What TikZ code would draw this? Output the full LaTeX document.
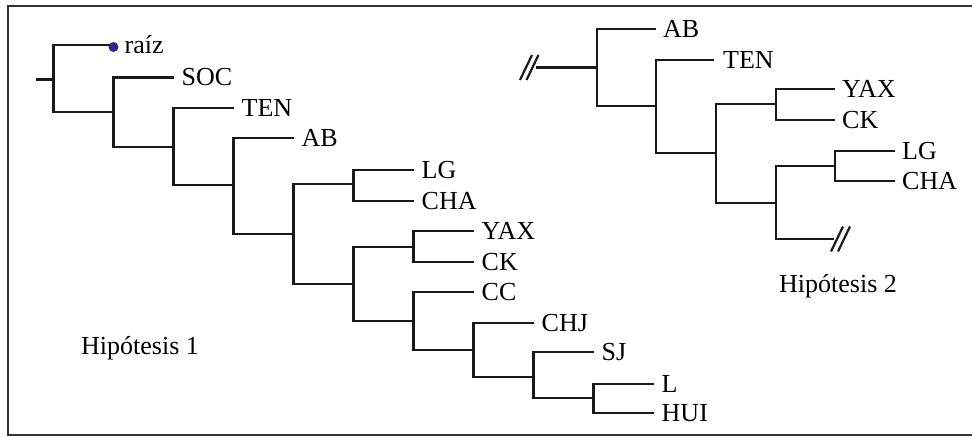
\documentclass[tikz,border=0pt]{standalone}
\usepackage{fontspec}
\setmainfont{Liberation Serif}
\definecolor{rootblue}{RGB}{46,40,140}

\begin{document}
\begin{tikzpicture}[x=1pt, y=-1pt,
  branch/.style={line width=2.2pt, black!90},
  taxon/.style={anchor=west, inner xsep=#1, inner ysep=0pt, font=\fontsize{26}{30}\selectfont},
  taxon/.default=8pt,
  caption/.style={anchor=base west, inner sep=0pt, font=\fontsize{26}{30}\selectfont}]

  \useasboundingbox (0,0) rectangle (972,438);
  \draw[line width=2.8pt, black!80] (8,6) rectangle (990,435);

  % Hipotesis 1
  \coordinate (stem) at (36,79.5);
  \coordinate (r0) at (53.5,79.5);
  \coordinate (r1) at (113.5,112);
  \coordinate (r2) at (173.5,147);
  \coordinate (r3) at (233.5,185);
  \coordinate (r4) at (293.5,234);
  \coordinate (r5) at (353.5,184);
  \coordinate (r6) at (353.5,284);
  \coordinate (r7) at (413.5,247);
  \coordinate (r8) at (413.5,321);
  \coordinate (r9) at (473.5,350);
  \coordinate (r10) at (533.5,377);
  \coordinate (r11) at (593.5,398);

  \node[taxon=11pt, yshift=2pt] (raiz) at (113.5,47) {raíz};
  \node[taxon] (soc) at (173.5,77.5) {SOC};
  \node[taxon] (ten) at (233.5,108) {TEN};
  \node[taxon] (ab) at (293.5,138) {AB};
  \node[taxon] (lg) at (413.5,170) {LG};
  \node[taxon] (cha) at (413.5,201) {CHA};
  \node[taxon] (yax) at (473.5,231) {YAX};
  \node[taxon] (ck) at (473.5,262) {CK};
  \node[taxon] (cc) at (473.5,292) {CC};
  \node[taxon] (chj) at (533.5,323) {CHJ};
  \node[taxon] (sj) at (593.5,352) {SJ};
  \node[taxon] (l) at (653.5,384) {L};
  \node[taxon] (hui) at (653.5,413) {HUI};

  \draw[branch] (stem) -- (r0);
  \draw[branch] (r0) |- (raiz.west);
  \draw[branch] (r0) |- (r1);
  \draw[branch] (r1) |- (soc.west);
  \draw[branch] (r1) |- (r2);
  \draw[branch] (r2) |- (ten.west);
  \draw[branch] (r2) |- (r3);
  \draw[branch] (r3) |- (ab.west);
  \draw[branch] (r3) |- (r4);
  \draw[branch] (r4) |- (r5);
  \draw[branch] (r4) |- (r6);
  \draw[branch] (r5) |- (lg.west);
  \draw[branch] (r5) |- (cha.west);
  \draw[branch] (r6) |- (r7);
  \draw[branch] (r6) |- (r8);
  \draw[branch] (r7) |- (yax.west);
  \draw[branch] (r7) |- (ck.west);
  \draw[branch] (r8) |- (cc.west);
  \draw[branch] (r8) |- (r9);
  \draw[branch] (r9) |- (chj.west);
  \draw[branch] (r9) |- (r10);
  \draw[branch] (r10) |- (sj.west);
  \draw[branch] (r10) |- (r11);
  \draw[branch] (r11) |- (l.west);
  \draw[branch] (r11) |- (hui.west);
  \fill[rootblue] (113.5,47) circle (5);

  \node[caption] (hip1) at (81,354) {Hipótesis 1};

  % Hipotesis 2
  \coordinate (stem2) at (536,67.5);
  \coordinate (s0) at (597,67.5);
  \coordinate (s1) at (656,106);
  \coordinate (s2) at (716,153);
  \coordinate (s3) at (776,104);
  \coordinate (s4) at (776,203);
  \coordinate (s5) at (835,166);
  \coordinate (cut) at (834,239);

  \node[taxon=7pt] (ab2) at (656,29) {AB};
  \node[taxon=9pt] (ten2) at (714,60) {TEN};
  \node[taxon=7pt] (yax2) at (835,89) {YAX};
  \node[taxon=7pt] (ck2) at (835,120) {CK};
  \node[taxon=7pt] (lg2) at (895,151) {LG};
  \node[taxon=7pt] (cha2) at (895,181) {CHA};

  \draw[branch] (stem2) -- (s0);
  \draw[branch] (s0) |- (ab2.west);
  \draw[branch] (s0) |- (s1);
  \draw[branch] (s1) |- (ten2.west);
  \draw[branch] (s1) |- (s2);
  \draw[branch] (s2) |- (s3);
  \draw[branch] (s2) |- (s4);
  \draw[branch] (s3) |- (yax2.west);
  \draw[branch] (s3) |- (ck2.west);
  \draw[branch] (s4) |- (s5);
  \draw[branch] (s4) |- (cut);
  \draw[branch] (s5) |- (lg2.west);
  \draw[branch] (s5) |- (cha2.west);

  \draw[branch] ([xshift=-10pt]stem2) ++(-6,12.5) -- ++(12,-25);
  \draw[branch] ([xshift=-3.5pt]stem2) ++(-6,12.5) -- ++(12,-25);
  \draw[branch] ([xshift=3pt]cut) ++(-6,12.5) -- ++(12,-25);
  \draw[branch] ([xshift=10pt]cut) ++(-6,12.5) -- ++(12,-25);

  \node[caption] (hip2) at (779,293) {Hipótesis 2};

\end{tikzpicture}
\end{document}
